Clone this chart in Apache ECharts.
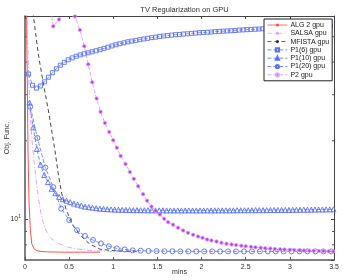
<!DOCTYPE html>
<html>
<head>
<meta charset="utf-8">
<script src="https://cdn.jsdelivr.net/npm/echarts@6/dist/echarts.min.js"></script>
<style>html,body{margin:0;padding:0;background:#fff;}#c{width:343px;height:280px;}</style>
</head>
<body>
<div id="c"></div>
<script>
// ---------- data ----------
const seriesNames = ['ALG 2 gpu','SALSA gpu','MFISTA gpu','P1(6) gpu','P1(10) gpu','P1(20) gpu','P2 gpu'];
const xTicks = [0, 0.5, 1, 1.5, 2, 2.5, 3, 3.5];
const yMajorTicks = [10];
const yMinorTicks = [8, 9, 20, 30, 40, 50];

const algX = [0, 0.01, 0.02, 0.026, 0.034, 0.045, 0.06, 0.076, 0.1, 0.132, 0.18, 0.25, 0.4, 0.6, 0.85];
const algY = [400, 120, 50, 34, 18.3, 11.8, 9.2, 8.1, 7.75, 7.6, 7.55, 7.52, 7.5, 7.5, 7.5];

const salX = [0.01, 0.03, 0.045, 0.06, 0.08, 0.1, 0.125, 0.15, 0.18, 0.21, 0.25, 0.3, 0.36, 0.45, 0.55, 0.7, 0.85, 1.0, 1.2];
const salY = [90, 48, 33, 25, 20, 17, 14.2, 12.2, 10.6, 9.6, 8.9, 8.45, 8.15, 7.9, 7.75, 7.63, 7.58, 7.55, 7.53];

const mfX = [0.09, 0.15, 0.2, 0.27, 0.34, 0.38, 0.415, 0.47, 0.55, 0.64, 0.735, 0.85, 1.0, 1.15, 1.3];
const mfY = [62, 43, 34.3, 25.5, 18.3, 14.7, 12.6, 10.8, 9.4, 8.6, 8.05, 7.7, 7.6, 7.57, 7.55];

const p6X = [0.04,0.085,0.13,0.175,0.22,0.265,0.31,0.355,0.40,0.445,0.49,0.535,0.58,0.625,0.67,0.715,0.76,0.805,0.85,0.895,0.94,0.985,1.03,1.075,1.12,1.165,1.21,1.255,1.30,1.345,1.39,1.435,1.48,1.525,1.57,1.615,1.66,1.705,1.75,1.795,1.84,1.885,1.93,1.975,2.02,2.065,2.11,2.155,2.20,2.245,2.29,2.335,2.38,2.425,2.47,2.515,2.56,2.605,2.65,2.695,2.74,2.785,2.83,2.875,2.92,2.965,3.01,3.055,3.10,3.145,3.19,3.235,3.28,3.325,3.37,3.415,3.46];
const p6Y = [36.0,32.6,31.8,32.4,33.6,35.0,36.4,37.7,38.9,39.9,40.8,41.5,42.1,42.6,43.0,43.4,43.8,44.2,44.6,45.1,45.6,46.1,46.6,47.0,47.4,47.8,48.1,48.4,48.7,49.0,49.3,49.6,49.8,50.1,50.3,50.5,50.7,50.9,51.0,51.2,51.3,51.5,51.6,51.8,51.9,52.0,52.1,52.3,52.4,52.5,52.6,52.7,52.8,53.0,53.1,53.2,53.3,53.4,53.5,53.6,53.7,53.8,53.9,54.0,54.1,54.2,54.3,54.35,54.4,54.5,54.55,54.6,54.7,54.75,54.8,54.85,54.9];

const p10X = [0.05,0.092,0.134,0.176,0.218,0.26,0.302,0.344,0.386,0.428,0.47,0.512,0.554,0.596,0.638,0.68,0.722,0.764,0.806,0.848,0.89,0.932,0.974,1.016,1.058,1.1,1.142,1.184,1.226,1.268,1.31,1.352,1.394,1.436,1.478,1.52,1.562,1.604,1.646,1.688,1.73,1.772,1.814,1.856,1.898,1.94,1.982,2.024,2.066,2.108,2.15,2.192,2.234,2.276,2.318,2.36,2.402,2.444,2.486,2.528,2.57,2.612,2.654,2.696,2.738,2.78,2.822,2.864,2.906,2.948,2.99,3.032,3.074,3.116,3.158,3.2,3.242,3.284,3.326,3.368,3.41,3.452,3.494];
const p10Y = [28.0,22.5,18.6,16.2,14.8,13.9,13.1,12.6,12.2,11.95,11.8,11.65,11.5,11.4,11.3,11.2,11.15,11.1,11.05,11.0,10.98,10.95,10.93,10.91,10.9,10.89,10.88,10.87,10.86,10.86,10.85,10.85,10.85,10.84,10.84,10.84,10.84,10.83,10.83,10.83,10.83,10.83,10.83,10.83,10.83,10.83,10.83,10.83,10.83,10.83,10.84,10.84,10.84,10.84,10.84,10.84,10.85,10.85,10.85,10.85,10.85,10.86,10.86,10.86,10.86,10.87,10.87,10.87,10.88,10.88,10.88,10.89,10.89,10.9,10.9,10.9,10.91,10.91,10.92,10.92,10.93,10.93,10.94];

const p20X = [0.06,0.14,0.23,0.32,0.41,0.5,0.59,0.68,0.77,0.86,0.95,1.04,1.13,1.22,1.31,1.4,1.49,1.58,1.67,1.76,1.85,1.94,2.03,2.12,2.21,2.3,2.39,2.48,2.57,2.66,2.75,2.84,2.93,3.02,3.11,3.2,3.29,3.38,3.47];
const p20Y = [27.0,20.5,15.8,13.3,11.0,9.95,9.1,8.65,8.35,8.1,7.9,7.75,7.68,7.62,7.6,7.58,7.57,7.56,7.56,7.55,7.55,7.55,7.55,7.55,7.55,7.55,7.55,7.55,7.55,7.55,7.55,7.55,7.55,7.55,7.55,7.55,7.55,7.55,7.55];

const p2X = [0.27,0.32,0.385,0.45,0.51,0.566,0.622,0.671,0.716,0.761,0.811,0.856,0.905,0.954,0.999,1.04,1.083,1.139,1.188,1.233,1.282,1.338,1.383,1.433,1.479,1.527,1.576,1.621,1.678,1.734,1.791,1.847,1.904,1.960,2.010,2.062,2.112,2.169,2.225,2.282,2.34,2.39,2.45,2.50,2.56,2.61,2.67,2.72,2.78,2.83,2.89,2.94,3.00,3.05,3.11,3.16,3.22,3.27,3.33,3.38,3.44,3.49];
const p2Y = [70,54.8,58.2,63,64,59.8,53.0,46.0,39.2,33.5,29.0,25.8,23.4,21.6,20.1,18.8,17.5,16.3,15.2,14.3,13.4,12.5,11.8,11.2,10.8,10.45,10.06,9.77,9.55,9.30,9.08,8.89,8.74,8.61,8.51,8.39,8.32,8.24,8.15,8.08,8.03,7.98,7.94,7.90,7.86,7.83,7.80,7.77,7.74,7.72,7.70,7.68,7.66,7.64,7.63,7.61,7.60,7.59,7.58,7.57,7.56,7.55];

// ---------- chart ----------
const zip = (xs, ys) => xs.map((x, i) => [x, ys[i]]);
const FONT = '"Liberation Sans", Arial, sans-serif';
const X_MIN = xTicks[0], X_MAX = xTicks[xTicks.length - 1];
const Y_MIN = 7, Y_MAX = 60;
const blue = '#5a70ff';
const clear = 'rgba(0,0,0,0)';

const chart = echarts.init(document.getElementById('c'), null, {renderer: 'canvas'});

const lineSeries = (name, xs, ys, color, type, width, symbol, symSize, itemStyle) => ({
  name, type: 'line', data: zip(xs, ys),
  xAxisIndex: 0, yAxisIndex: 0,
  showSymbol: symbol !== 'none', symbol: symbol, symbolSize: symSize, showAllSymbol: true,
  lineStyle: {color, type, width},
  itemStyle: itemStyle || {color},
  emphasis: {disabled: true},
  clip: true, smooth: false
});

const option = {
  animation: false,
  textStyle: {fontFamily: FONT},
  title: {
    text: 'TV Regularization on GPU', left: 179.5, textAlign: 'center', top: 1,
    textStyle: {fontSize: 7.5, fontWeight: 'normal', color: '#333', fontFamily: FONT}
  },
  grid: {left: 25, right: 9, top: 16, bottom: 20, containLabel: false, outerBoundsMode: 'none'},
  legend: {
    orient: 'vertical', left: 264, top: 19,
    backgroundColor: '#fff', borderColor: '#222', borderWidth: 1, borderRadius: 0,
    padding: [2, 3, 2, 3], itemGap: 0.3, itemWidth: 20, itemHeight: 4,
    lineStyle: {width: 0.8},
    textStyle: {fontSize: 7, color: '#222', fontFamily: FONT, lineHeight: 8, padding: [0, 0, 0, -2]},
    data: seriesNames
  },
  xAxis: [
    {type: 'value', min: X_MIN, max: X_MAX, interval: 0.5, position: 'bottom',
     axisLine: {show: true, onZero: false, lineStyle: {color: '#555', width: 1.5}},
     axisTick: {show: true, inside: true, length: 3, lineStyle: {color: '#555'}},
     axisLabel: {fontSize: 7, color: '#333', margin: 4, fontFamily: FONT},
     splitLine: {show: false},
     name: 'mins', nameLocation: 'middle', nameGap: 9, nameMoveOverlap: false,
     nameTextStyle: {fontSize: 7, color: '#333', fontFamily: FONT, verticalAlign: 'top'}},
    {type: 'value', min: X_MIN, max: X_MAX, interval: 0.5, position: 'top',
     axisLine: {show: true, onZero: false, lineStyle: {color: '#444', width: 1}},
     axisTick: {show: true, inside: true, length: 3, lineStyle: {color: '#444'}},
     axisLabel: {show: false}, splitLine: {show: false}}
  ],
  yAxis: [
    {type: 'log', logBase: 10, min: Y_MIN, max: Y_MAX, position: 'left',
     axisLine: {show: true, onZero: false, lineStyle: {color: '#555', width: 1.5}},
     axisTick: {show: true, inside: true, length: 3, lineStyle: {color: '#555'}},
     axisLabel: {
       fontSize: 7, color: '#333', margin: 4, fontFamily: FONT,
       showMinLabel: false, showMaxLabel: false,
       formatter: v => yMajorTicks.some(t => Math.abs(v - t) < 1e-6) ? '{b|10}{s|1}' : '',
       rich: {b: {fontSize: 7, color: '#333', fontFamily: FONT}, s: {fontSize: 5, color: '#333', fontFamily: FONT, padding: [0, 0, 5, 0]}}
     },
     splitLine: {show: false},
     name: 'Obj. Func.', nameLocation: 'middle', nameGap: 14, nameRotate: 90, nameMoveOverlap: false,
     nameTextStyle: {fontSize: 7, color: '#333', fontFamily: FONT}},
    {type: 'log', logBase: 10, min: Y_MIN, max: Y_MAX, position: 'right',
     axisLine: {show: true, onZero: false, lineStyle: {color: '#444', width: 1}},
     axisTick: {show: true, inside: true, length: 3, lineStyle: {color: '#444'}},
     axisLabel: {show: false}, splitLine: {show: false}}
  ],
  series: [
    lineSeries('ALG 2 gpu', algX, algY, '#ff5050', 'solid', 1, 'none', 0),
    lineSeries('SALSA gpu', salX, salY, '#dca6ff', [5, 2, 1, 2], 1, 'none', 0),
    lineSeries('MFISTA gpu', mfX, mfY, '#333', [4, 3], 0.9, 'none', 0),
    lineSeries('P1(6) gpu', p6X, p6Y, blue, [4, 2], 0.8, 'rect', 4, {color: clear, borderColor: blue, borderWidth: 0.9}),
    lineSeries('P1(10) gpu', p10X, p10Y, blue, [4, 2], 0.8, 'triangle', 5, {color: clear, borderColor: blue, borderWidth: 0.9}),
    lineSeries('P1(20) gpu', p20X, p20Y, blue, [4, 2], 0.8, 'circle', 5, {color: clear, borderColor: blue, borderWidth: 0.9}),
    lineSeries('P2 gpu', p2X, p2Y, '#d890ff', [4, 2], 0.8, 'circle', 3.5, {color: '#b93cef', borderColor: '#e0a8ff', borderWidth: 0.8}),
    {
      type: 'custom', name: 'minorTicks', silent: true, xAxisIndex: 0, yAxisIndex: 0,
      data: yMinorTicks.map(v => [X_MIN, v]),
      encode: {x: 0, y: 1},
      clip: false,
      renderItem: (params, api) => {
        const v = api.value(1);
        const l = api.coord([X_MIN, v]);
        const r = api.coord([X_MAX, v]);
        const st = {stroke: '#555', lineWidth: 1};
        return {type: 'group', children: [
          {type: 'line', shape: {x1: l[0], y1: l[1], x2: l[0] + 2, y2: l[1]}, style: st},
          {type: 'line', shape: {x1: r[0] - 2, y1: r[1], x2: r[0], y2: r[1]}, style: st}
        ]};
      }
    }
  ]
};
chart.setOption(option);
</script>
</body>
</html>
